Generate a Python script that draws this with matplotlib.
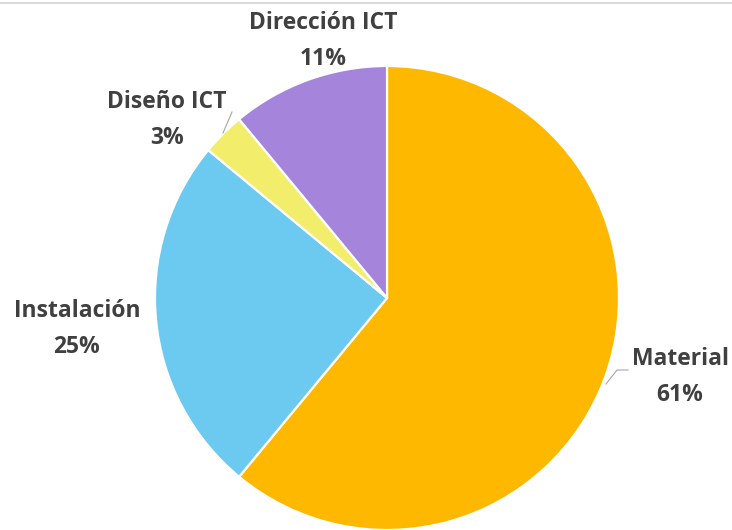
import matplotlib.pyplot as plt
from matplotlib.lines import Line2D

# cost breakdown (percent)
categories = ["Material", "Instalación", "Diseño ICT", "Dirección ICT"]
shares = [61, 25, 3, 11]
colors = ["#FFB800", "#6CC9F0", "#F2ED6B", "#A584DB"]

W, H = 732, 530
fig = plt.figure(figsize=(W / 100, H / 100), dpi=100)
ax = fig.add_axes([0, 0, 1, 1])

# pie drawn clockwise from the top; axes span the figure in pixel units
cx, cy, r = 387, H - 298, 232
ax.pie(shares, colors=colors, startangle=90, counterclock=False,
       center=(cx, cy), radius=r, frame=True,
       wedgeprops=dict(edgecolor="white", linewidth=1.6))
ax.set_xlim(0, W)
ax.set_ylim(0, H)
ax.set_aspect("equal")
ax.axis("off")

# label spots given with y measured from the top
label_pos = {
    "Material": (680, 359),
    "Instalación": (77, 311),
    "Diseño ICT": (167, 102),
    "Dirección ICT": (323, 23),
}
txt = dict(ha="center", va="center", fontsize=16.5, fontweight="bold",
           color="#404040", family="Open Sans")
for name, val in zip(categories, shares):
    x, y = label_pos[name]
    ax.text(x, H - y, name, **txt)
    ax.text(x, H - y - 36, f"{val}%", **txt)

# leader lines
ax.plot([606, 617, 628], [H - 384, H - 370, H - 370], color="#A6A6A6", lw=0.8)
ax.plot([223, 232], [H - 133, H - 112], color="#A6A6A6", lw=0.8)

# thin frame line along the top
fig.add_artist(Line2D([0, 1], [0.994, 0.994], transform=fig.transFigure,
                      color="#D9D9D9", lw=1.5))

fig.savefig("out.png", dpi=100, facecolor="white")
